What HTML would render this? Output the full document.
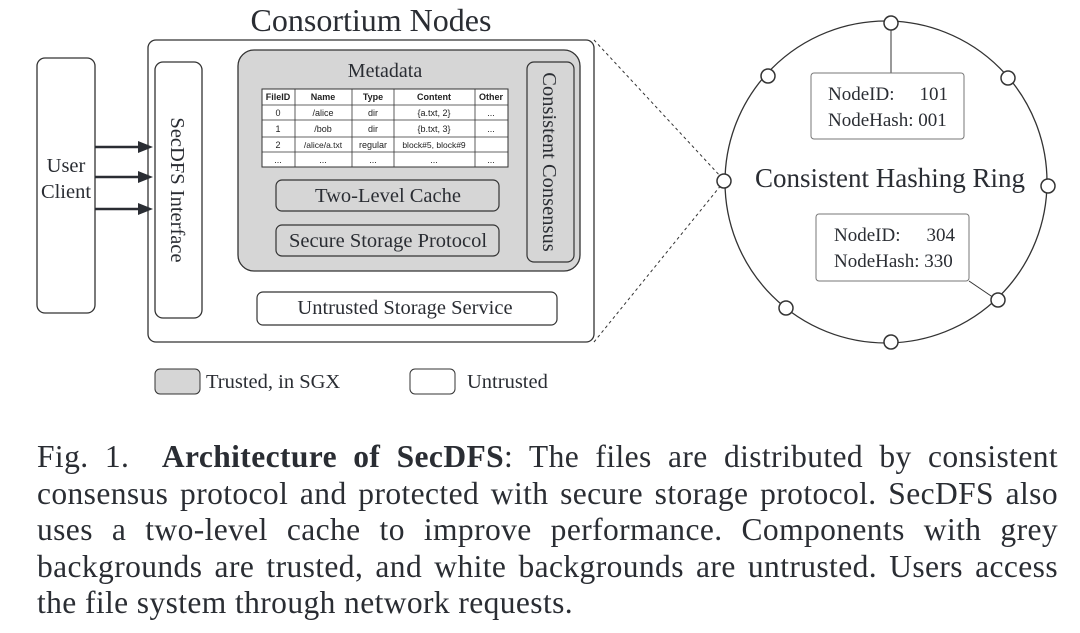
<!DOCTYPE html>
<html><head><meta charset="utf-8"><style>
body{margin:0;width:1080px;height:633px;background:#fff;overflow:hidden;position:relative;font-family:"Liberation Serif",serif;color:#2a2d33}
svg{position:absolute;left:0;top:0}
.cap{position:absolute;left:37px;width:1021px;font-size:31.5px;letter-spacing:0.4px;line-height:36.6px;top:439px}
.l{text-align:justify;text-align-last:justify;white-space:nowrap;height:36.6px}
.last{text-align:left;text-align-last:left}
</style></head><body>
<svg width="1080" height="430" viewBox="0 0 1080 430" font-family="Liberation Serif, serif" fill="none" stroke="#333">
<text x="371" y="31" font-size="32" fill="#2a2d33" stroke="none" text-anchor="middle">Consortium Nodes</text>
<rect x="37" y="58" width="58" height="255" rx="8" stroke-width="1.3"/>
<text x="66" y="172" font-size="20.5" fill="#2a2d33" stroke="none" text-anchor="middle">User</text>
<text x="66" y="198" font-size="20.5" fill="#2a2d33" stroke="none" text-anchor="middle">Client</text>
<rect x="148" y="40" width="446" height="302" rx="8" stroke-width="1.3"/>
<rect x="155" y="62" width="47" height="256" rx="8" stroke-width="1.3"/>
<text transform="translate(171,190) rotate(90)" font-size="20.5" fill="#2a2d33" stroke="none" text-anchor="middle">SecDFS Interface</text>
<g stroke="#2a2d33" stroke-width="2.5">
<line x1="95" y1="147" x2="142" y2="147"/><line x1="95" y1="177" x2="142" y2="177"/><line x1="95" y1="209" x2="142" y2="209"/></g>
<g fill="#2a2d33" stroke="none">
<polygon points="153,147 138,141 138,153"/><polygon points="153,177 138,171 138,183"/><polygon points="153,209 138,203 138,215"/></g>
<rect x="238" y="50" width="342" height="221" rx="16" fill="#d6d6d6" stroke-width="1.3"/>
<text x="385" y="77" font-size="20" fill="#2a2d33" stroke="none" text-anchor="middle">Metadata</text>
<rect x="527" y="62" width="47" height="200" rx="7" fill="#d6d6d6" stroke-width="1.2"/>
<text transform="translate(543,162) rotate(90)" font-size="20.5" fill="#2a2d33" stroke="none" text-anchor="middle">Consistent Consensus</text>
<rect x="262" y="89" width="246" height="78" fill="#fff" stroke-width="1"/>
<g stroke-width="0.8">
<line x1="262" y1="105" x2="508" y2="105"/><line x1="262" y1="120" x2="508" y2="120"/><line x1="262" y1="137" x2="508" y2="137"/><line x1="262" y1="152" x2="508" y2="152"/>
<line x1="295" y1="89" x2="295" y2="167"/><line x1="352" y1="89" x2="352" y2="167"/><line x1="394" y1="89" x2="394" y2="167"/><line x1="475" y1="89" x2="475" y2="167"/></g>
<g font-family="Liberation Sans, sans-serif" font-size="9" fill="#222" stroke="none" text-anchor="middle">
<text x="278" y="100" font-weight="bold">FileID</text><text x="323" y="100" font-weight="bold">Name</text><text x="373" y="100" font-weight="bold">Type</text><text x="434" y="100" font-weight="bold">Content</text><text x="491" y="100" font-weight="bold">Other</text>
<text x="278" y="116">0</text><text x="323" y="116">/alice</text><text x="373" y="116">dir</text><text x="434" y="116">{a.txt, 2}</text><text x="491" y="116">...</text>
<text x="278" y="132">1</text><text x="323" y="132">/bob</text><text x="373" y="132">dir</text><text x="434" y="132">{b.txt, 3}</text><text x="491" y="132">...</text>
<text x="278" y="148">2</text><text x="323" y="148" font-size="8.5">/alice/a.txt</text><text x="373" y="148">regular</text><text x="434" y="148" font-size="8.5">block#5, block#9</text>
<text x="278" y="163">...</text><text x="323" y="163">...</text><text x="373" y="163">...</text><text x="434" y="163">...</text><text x="491" y="163">...</text></g>
<rect x="276" y="180" width="223" height="31" rx="6" fill="#d6d6d6" stroke-width="1.2"/>
<text x="388" y="202" font-size="20.5" fill="#2a2d33" stroke="none" text-anchor="middle">Two-Level Cache</text>
<rect x="276" y="225" width="223" height="31" rx="6" fill="#d6d6d6" stroke-width="1.2"/>
<text x="388" y="247" font-size="20.5" fill="#2a2d33" stroke="none" text-anchor="middle">Secure Storage Protocol</text>
<rect x="257" y="292" width="300" height="33" rx="6" stroke-width="1.2"/>
<text x="405" y="314" font-size="20.5" fill="#2a2d33" stroke="none" text-anchor="middle">Untrusted Storage Service</text>
<g stroke-dasharray="3,3" stroke-width="1"><line x1="594" y1="40" x2="722" y2="178"/><line x1="594" y1="342" x2="722" y2="184"/></g>
<rect x="155" y="369" width="45" height="25" rx="5" fill="#d6d6d6" stroke-width="1"/>
<text x="206" y="388" font-size="20.5" fill="#2a2d33" stroke="none">Trusted, in SGX</text>
<rect x="410" y="369" width="45" height="25" rx="5" stroke-width="1"/>
<text x="467" y="388" font-size="20.5" fill="#2a2d33" stroke="none">Untrusted</text>
<circle cx="886" cy="182" r="161" stroke-width="1.3"/>
<line x1="891" y1="30" x2="891" y2="73" stroke-width="1"/>
<line x1="969" y1="281" x2="997" y2="300" stroke-width="1"/>
<g fill="#fff" stroke-width="1.5">
<circle cx="891" cy="23" r="7"/><circle cx="891" cy="342" r="7"/><circle cx="724" cy="181" r="7"/><circle cx="1048" cy="186" r="7"/>
<circle cx="768" cy="76" r="7"/><circle cx="1008" cy="78" r="7"/><circle cx="786" cy="308" r="7"/><circle cx="998" cy="300" r="7"/></g>
<rect x="811" y="73" width="153" height="66" rx="3" fill="#fff" stroke="#777" stroke-width="1"/>
<text x="828" y="100" font-size="19" fill="#2a2d33" stroke="none">NodeID:</text><text x="948" y="100" font-size="19" fill="#2a2d33" stroke="none" text-anchor="end">101</text>
<text x="828" y="126" font-size="19" fill="#2a2d33" stroke="none">NodeHash: 001</text>
<text x="890" y="187" font-size="27" fill="#2a2d33" stroke="none" text-anchor="middle">Consistent Hashing Ring</text>
<rect x="816" y="214" width="153" height="67" rx="3" fill="#fff" stroke="#777" stroke-width="1"/>
<text x="834" y="241" font-size="19" fill="#2a2d33" stroke="none">NodeID:</text><text x="955" y="241" font-size="19" fill="#2a2d33" stroke="none" text-anchor="end">304</text>
<text x="834" y="267" font-size="19" fill="#2a2d33" stroke="none">NodeHash: 330</text>
</svg>
<div class="cap">
<div class="l">Fig. 1. &nbsp;<b>Architecture of SecDFS</b>: The files are distributed by consistent</div>
<div class="l">consensus protocol and protected with secure storage protocol. SecDFS also</div>
<div class="l">uses a two-level cache to improve performance. Components with grey</div>
<div class="l">backgrounds are trusted, and white backgrounds are untrusted. Users access</div>
<div class="l last">the file system through network requests.</div>
</div>
</body></html>
